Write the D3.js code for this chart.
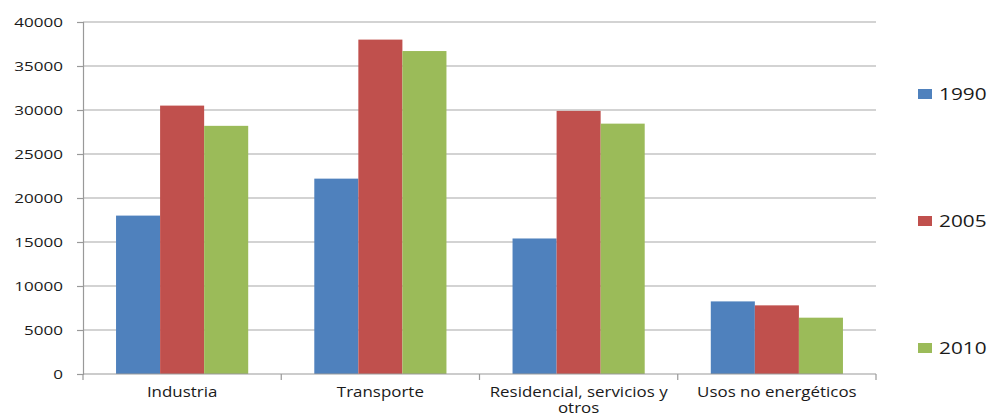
<!DOCTYPE html>
<html>
<head>
<meta charset="utf-8">
<script src="https://cdn.jsdelivr.net/npm/d3@7"></script>
<style>
  html, body { margin: 0; padding: 0; background: #fff; }
  svg { display: block; }
  text { font-family: "Open Sans", "Liberation Sans", sans-serif; fill: #1a1a1a; }
</style>
</head>
<body>
<svg id="chart" width="990" height="419"></svg>
<script>
// Energy consumption by sector, three reference years
const categories = ["Industria", "Transporte", "Residencial, servicios y otros", "Usos no energéticos"];
const seriesNames = ["1990", "2005", "2010"];
const values1990 = [18000, 22200, 15400, 8250];
const values2005 = [30500, 38000, 29900, 7800];
const values2010 = [28200, 36700, 28450, 6400];
const yTicks = [0, 5000, 10000, 15000, 20000, 25000, 30000, 35000, 40000];
const colors = ["#4F81BD", "#C0504D", "#9BBB59"];

const seriesValues = [values1990, values2005, values2010];
const rows = categories.map((c, i) => ({
  category: c,
  values: seriesNames.map((s, j) => ({ series: s, value: seriesValues[j][i] }))
}));

const svg = d3.select("#chart");
const plotLeft = 83, plotRight = 876, plotTop = 22, plotBottom = 374;

const x0 = d3.scaleBand().domain(categories).range([plotLeft, plotRight]).paddingInner(0).paddingOuter(0);
const x1 = d3.scaleBand().domain(seriesNames).range([0, x0.bandwidth()]).paddingInner(0).paddingOuter(0.75);
const y = d3.scaleLinear().domain([0, 40000]).range([plotBottom, plotTop]);
const color = d3.scaleOrdinal().domain(seriesNames).range(colors);

// Horizontal gridlines
svg.append("g")
  .selectAll("line")
  .data(yTicks.filter(t => t > 0))
  .join("line")
  .attr("x1", plotLeft).attr("x2", plotRight)
  .attr("y1", d => y(d)).attr("y2", d => y(d))
  .attr("stroke", "#a8a8a8").attr("stroke-width", 1.2);

// Bars
const groups = svg.append("g")
  .selectAll("g")
  .data(rows)
  .join("g")
  .attr("transform", d => `translate(${x0(d.category)},0)`);

groups.selectAll("rect")
  .data(d => d.values)
  .join("rect")
  .attr("x", d => x1(d.series))
  .attr("width", x1.bandwidth())
  .attr("y", d => y(d.value))
  .attr("height", d => y(0) - y(d.value))
  .attr("fill", d => color(d.series));

// Y axis
const yAxis = svg.append("g")
  .attr("transform", `translate(${plotLeft},0)`)
  .call(d3.axisLeft(y).tickValues(yTicks).tickSize(6).tickFormat(d3.format("d")));
yAxis.select(".domain").attr("stroke", "#999").attr("stroke-width", 1.2);
yAxis.selectAll(".tick line").attr("stroke", "#999").attr("stroke-width", 1.2);
yAxis.selectAll(".tick text")
  .attr("x", 0)
  .attr("dy", "0.36em")
  .attr("transform", "translate(-20,0) scale(1.42,1)")
  .style("font-size", "12px")
  .attr("fill", "#1a1a1a");

// X axis
const xAxis = svg.append("g")
  .attr("transform", `translate(0,${plotBottom})`);
xAxis.append("line")
  .attr("x1", plotLeft).attr("x2", plotRight)
  .attr("stroke", "#999").attr("stroke-width", 1.2);
xAxis.selectAll(".sep")
  .data(d3.range(categories.length + 1))
  .join("line")
  .attr("class", "sep")
  .attr("x1", i => plotLeft + i * x0.step()).attr("x2", i => plotLeft + i * x0.step())
  .attr("y1", 0).attr("y2", 6)
  .attr("stroke", "#999").attr("stroke-width", 1.2);

// Category labels, wrapped to the band width
const labelScale = 1.21;
const labels = xAxis.selectAll(".cat")
  .data(categories)
  .join("text")
  .attr("class", "cat")
  .attr("text-anchor", "middle")
  .attr("transform", d => `translate(${x0(d) + x0.bandwidth() / 2},23) scale(${labelScale},1)`)
  .style("font-size", "14px");

labels.each(function (d) {
  const t = d3.select(this);
  const words = d.split(" ");
  let line = [];
  let tspan = t.append("tspan").attr("x", 0).attr("dy", 0);
  words.forEach(w => {
    line.push(w);
    tspan.text(line.join(" "));
    if (tspan.node().getComputedTextLength() * labelScale > x0.bandwidth() - 2 && line.length > 1) {
      line.pop();
      tspan.text(line.join(" "));
      line = [w];
      tspan = t.append("tspan").attr("x", 0).attr("dy", "1.15em").text(w);
    }
  });
});

// Legend
const legendY = [94, 221, 348];
const legend = svg.append("g")
  .selectAll("g")
  .data(seriesNames)
  .join("g")
  .attr("transform", (d, i) => `translate(918,${legendY[i]})`);
legend.append("rect")
  .attr("x", 0).attr("y", -5)
  .attr("width", 14).attr("height", 10)
  .attr("fill", d => color(d));
legend.append("text")
  .attr("x", 0)
  .attr("dy", "0.36em")
  .attr("transform", "translate(21,0) scale(1.3,1)")
  .style("font-size", "16px")
  .text(d => d);
</script>
</body>
</html>
